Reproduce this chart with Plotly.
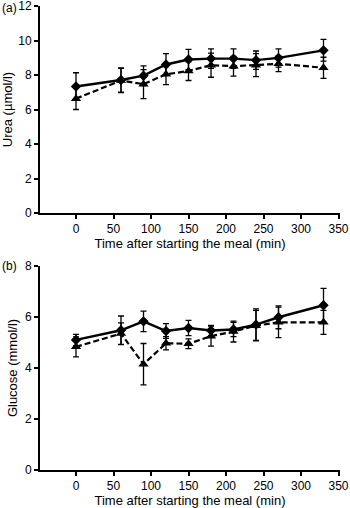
import plotly.graph_objects as go
from plotly.subplots import make_subplots

time = [0, 60, 90, 120, 150, 180, 210, 240, 270, 330]

urea_a = [7.33, 7.71, 7.96, 8.61, 8.90, 8.95, 8.95, 8.86, 8.99, 9.43]
urea_a_err = [0.80, 0.70, 0.57, 0.63, 0.59, 0.57, 0.57, 0.53, 0.53, 0.63]
urea_b = [6.63, 7.68, 7.47, 8.04, 8.23, 8.57, 8.51, 8.57, 8.65, 8.42]
urea_b_err = [0.63, 0.70, 0.84, 0.60, 0.55, 0.70, 0.57, 0.67, 0.46, 0.61]

glu_a = [5.10, 5.48, 5.83, 5.45, 5.57, 5.47, 5.51, 5.70, 5.99, 6.46]
glu_a_err = [0.22, 0.56, 0.40, 0.29, 0.30, 0.20, 0.28, 0.62, 0.45, 0.66]
glu_b = [4.83, 5.35, 4.15, 4.97, 4.95, 5.25, 5.43, 5.66, 5.79, 5.79]
glu_b_err = [0.39, 0.42, 0.81, 0.26, 0.19, 0.39, 0.41, 0.60, 0.60, 0.47]

x_ticks = [0, 50, 100, 150, 200, 250, 300, 350]

fig = make_subplots(rows=2, cols=1)

def add_pair(row, ya, ea, yb, eb):
    fig.add_trace(go.Scatter(
        x=time, y=yb, mode="lines+markers",
        line=dict(color="black", width=2.2, dash="6px,3px"),
        marker=dict(symbol="triangle-up", size=9, color="black"),
        error_y=dict(type="data", array=eb, color="black", thickness=1.3, width=3),
        showlegend=False), row=row, col=1)
    fig.add_trace(go.Scatter(
        x=time, y=ya, mode="lines+markers",
        line=dict(color="black", width=2.4),
        marker=dict(symbol="diamond", size=8, color="black"),
        error_y=dict(type="data", array=ea, color="black", thickness=1.3, width=3),
        showlegend=False), row=row, col=1)

add_pair(1, urea_a, urea_a_err, urea_b, urea_b_err)
add_pair(2, glu_a, glu_a_err, glu_b, glu_b_err)

tfont = dict(family="Liberation Sans, Arial, sans-serif", size=12, color="black")
lfont = dict(family="Liberation Sans, Arial, sans-serif", size=13, color="black")
axis_common = dict(showline=True, linewidth=2, linecolor="black", ticks="outside",
                   ticklen=4, tickwidth=2, tickcolor="black", showgrid=False,
                   zeroline=False, tickfont=tfont, automargin=False,
                   ticklabeloverflow="allow")

fig.update_xaxes(range=[-48, 352], tickvals=x_ticks, **axis_common,
                 title=dict(text="Time after starting the meal (min)", font=lfont, standoff=3))
fig.update_yaxes(**axis_common)
fig.update_yaxes(range=[0, 12], dtick=2, row=1, col=1,
                 title=dict(text="Urea (µmol/l)", font=lfont, standoff=4))
fig.update_yaxes(range=[0, 8], dtick=2, row=2, col=1,
                 title=dict(text="Glucose (mmol/l)", font=lfont, standoff=4))

H = 508
t, b = 6, 38
ph = H - t - b
def frac(py):
    return (H - b - py) / ph

fig.update_layout(
    width=350, height=508,
    margin=dict(l=40, r=10, t=t, b=b, autoexpand=False),
    paper_bgcolor="white", plot_bgcolor="white",
    font=tfont,
    xaxis=dict(domain=[0, 1], anchor="y"),
    yaxis=dict(domain=[frac(213), 1]),
    xaxis2=dict(domain=[0, 1], anchor="y2"),
    yaxis2=dict(domain=[0, frac(266)]),
)

fig.add_annotation(text="(a)", x=0, y=1, xref="paper", yref="paper", xshift=-40,
                   xanchor="left", yanchor="middle", showarrow=False, font=tfont, yshift=-2)
fig.add_annotation(text="(b)", x=0, y=frac(266), xref="paper", yref="paper", xshift=-40,
                   xanchor="left", yanchor="middle", showarrow=False, font=tfont)

fig.write_html("out.html", config={"displayModeBar": False},
               post_script="document.body.style.margin='0';document.body.style.overflow='hidden';")
